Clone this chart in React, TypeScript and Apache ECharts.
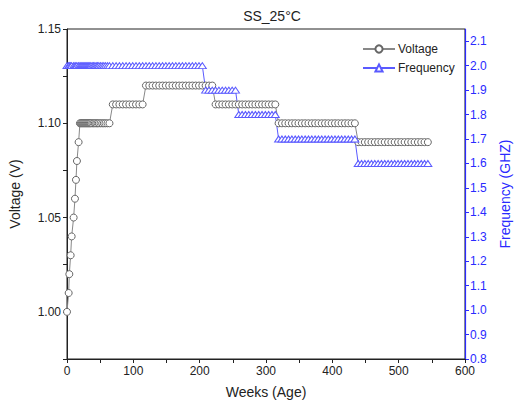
import React, { useEffect, useRef } from "react";
import * as echarts from "echarts";

const weeks = [
  0, 2.5, 3.5, 5.5, 7, 10, 12, 13.5, 15, 17.5,
  19.5, 21, 22.5, 24, 25.5, 27, 28.5, 30, 31.5, 33, 34.5, 36, 38, 40, 42, 44, 46, 48, 50.5, 53, 55.5, 58, 61, 64,
  69, 74, 79, 84, 89, 94, 99, 104, 109, 114,
  119, 124, 129, 134, 139, 144, 149, 154, 159, 164, 169, 174, 179, 184, 189, 194, 199, 204, 209, 214, 219,
  224, 229, 234, 239, 244, 249, 254, 259, 264, 269, 274, 279, 284, 289, 294, 299, 304, 309, 314,
  319, 324, 329, 334, 339, 344, 349, 354, 359, 364, 369, 374, 379, 384, 389, 394, 399, 404, 409, 414, 419, 424, 429, 434,
  439, 444, 449, 454, 459, 464, 469, 474, 479, 484, 489, 494, 499, 504, 509, 514, 519, 524, 529, 534, 539, 544,
];

const voltage = [
  1.0, 1.01, 1.02, 1.03, 1.04, 1.05, 1.06, 1.07, 1.08, 1.09,
  1.1, 1.1, 1.1, 1.1, 1.1, 1.1, 1.1, 1.1, 1.1, 1.1, 1.1, 1.1, 1.1, 1.1, 1.1, 1.1, 1.1, 1.1, 1.1, 1.1, 1.1, 1.1, 1.1, 1.1,
  1.11, 1.11, 1.11, 1.11, 1.11, 1.11, 1.11, 1.11, 1.11, 1.11,
  1.12, 1.12, 1.12, 1.12, 1.12, 1.12, 1.12, 1.12, 1.12, 1.12, 1.12, 1.12, 1.12, 1.12, 1.12, 1.12, 1.12, 1.12, 1.12, 1.12, 1.12,
  1.11, 1.11, 1.11, 1.11, 1.11, 1.11, 1.11, 1.11, 1.11, 1.11, 1.11, 1.11, 1.11, 1.11, 1.11, 1.11, 1.11, 1.11, 1.11,
  1.1, 1.1, 1.1, 1.1, 1.1, 1.1, 1.1, 1.1, 1.1, 1.1, 1.1, 1.1, 1.1, 1.1, 1.1, 1.1, 1.1, 1.1, 1.1, 1.1, 1.1, 1.1, 1.1, 1.1,
  1.09, 1.09, 1.09, 1.09, 1.09, 1.09, 1.09, 1.09, 1.09, 1.09, 1.09, 1.09, 1.09, 1.09, 1.09, 1.09, 1.09, 1.09, 1.09, 1.09, 1.09, 1.09,
];

const frequency = [
  2.0, 2.0, 2.0, 2.0, 2.0, 2.0, 2.0, 2.0, 2.0, 2.0,
  2.0, 2.0, 2.0, 2.0, 2.0, 2.0, 2.0, 2.0, 2.0, 2.0, 2.0, 2.0, 2.0, 2.0, 2.0, 2.0, 2.0, 2.0, 2.0, 2.0, 2.0, 2.0, 2.0, 2.0,
  2.0, 2.0, 2.0, 2.0, 2.0, 2.0, 2.0, 2.0, 2.0, 2.0,
  2.0, 2.0, 2.0, 2.0, 2.0, 2.0, 2.0, 2.0, 2.0, 2.0, 2.0, 2.0, 2.0, 2.0, 2.0, 2.0, 2.0, 2.0, 1.9, 1.9, 1.9,
  1.9, 1.9, 1.9, 1.9, 1.9, 1.9, 1.9, 1.8, 1.8, 1.8, 1.8, 1.8, 1.8, 1.8, 1.8, 1.8, 1.8, 1.8, 1.8,
  1.7, 1.7, 1.7, 1.7, 1.7, 1.7, 1.7, 1.7, 1.7, 1.7, 1.7, 1.7, 1.7, 1.7, 1.7, 1.7, 1.7, 1.7, 1.7, 1.7, 1.7, 1.7, 1.7, 1.7,
  1.6, 1.6, 1.6, 1.6, 1.6, 1.6, 1.6, 1.6, 1.6, 1.6, 1.6, 1.6, 1.6, 1.6, 1.6, 1.6, 1.6, 1.6, 1.6, 1.6, 1.6, 1.6,
];

const FONT = "Arial, 'Liberation Sans', sans-serif";
const BLUE = "#2a2aff";
const TRI = "#5a5aff";

export default function App() {
  const ref = useRef<HTMLDivElement>(null);
  useEffect(() => {
    if (!ref.current) return;
    const chart = echarts.init(ref.current, null, { renderer: "svg" });
    chart.setOption({
      animation: false,
      backgroundColor: "#fff",
      title: {
        text: "SS_25\u00b0C",
        left: 267,
        textAlign: "center",
        top: 4,
        textStyle: { fontFamily: FONT, fontSize: 14, fontWeight: "normal", color: "#222" },
      },
      legend: {
        orient: "vertical",
        left: 357,
        top: 38,
        itemWidth: 32,
        itemHeight: 9,
        itemGap: 7,
        textStyle: { fontFamily: FONT, fontSize: 12, color: "#222", padding: [0, 0, 0, -2] },
        data: ["Voltage", "Frequency"],
      },
      grid: {
        left: 67,
        right: 52,
        top: 29,
        bottom: 46,
        show: true,
        borderColor: "#222",
        borderWidth: 1,
        backgroundColor: "transparent",
      },
      xAxis: {
        type: "value",
        min: 0,
        max: 600,
        interval: 50,
        name: "Weeks (Age)",
        nameLocation: "middle",
        nameGap: 26,
        nameTextStyle: { fontFamily: FONT, fontSize: 14, color: "#222" },
        axisLine: { show: true, lineStyle: { color: "#222", width: 1 } },
        axisTick: { show: true, length: 4, lineStyle: { color: "#222" } },
        axisLabel: {
          fontFamily: FONT,
          fontSize: 12,
          color: "#222",
          margin: 6,
          formatter: (v: number) => (Math.round(v) % 100 === 0 ? String(v) : ""),
        },
        splitLine: { show: false },
      },
      yAxis: [
        {
          type: "value",
          min: 0.975,
          max: 1.15,
          interval: 0.025,
          name: "Voltage (V)",
          nameLocation: "middle",
          nameGap: 45,
          nameTextStyle: { fontFamily: FONT, fontSize: 14, color: "#222" },
          axisLine: { show: true, lineStyle: { color: "#222", width: 1 } },
          axisTick: { show: true, length: 4, lineStyle: { color: "#222" } },
          axisLabel: {
            fontFamily: FONT,
            fontSize: 12,
            color: "#222",
            margin: 6,
            formatter: (v: number) =>
              Math.round(v * 1000) % 50 === 0 ? v.toFixed(2) : "",
          },
          splitLine: { show: false },
        },
        {
          type: "value",
          position: "right",
          min: 0.8,
          max: 2.15,
          interval: 0.1,
          name: "Frequency (GHZ)",
          nameLocation: "middle",
          nameGap: 33,
          nameTextStyle: { fontFamily: FONT, fontSize: 14, color: BLUE },
          axisLine: { show: true, lineStyle: { color: BLUE, width: 1.2 } },
          axisTick: { show: true, length: 4, lineStyle: { color: BLUE } },
          axisLabel: {
            fontFamily: FONT,
            fontSize: 12,
            color: BLUE,
            margin: 5,
            showMaxLabel: false,
            formatter: (v: number) => (v > 2.12 ? "" : v.toFixed(1)),
          },
          splitLine: { show: false },
        },
      ],
      series: [
        {
          name: "Voltage",
          type: "line",
          yAxisIndex: 0,
          data: weeks.map((w, i) => [w, voltage[i]]),
          symbol: "circle",
          symbolSize: 7,
          showAllSymbol: true,
          lineStyle: { color: "#888", width: 1 },
          itemStyle: { color: "#fff", borderColor: "#666", borderWidth: 1 },
        },
        {
          name: "Frequency",
          type: "line",
          yAxisIndex: 1,
          data: weeks.map((w, i) => [w, frequency[i]]),
          symbol: "triangle",
          symbolSize: [8, 6],
          showAllSymbol: true,
          lineStyle: { color: TRI, width: 1 },
          itemStyle: { color: "#fff", borderColor: TRI, borderWidth: 1 },
        },
      ],
    });
    return () => chart.dispose();
  }, []);
  return <div ref={ref} style={{ width: 520, height: 405, position: "absolute", left: 0, top: 0 }} />;
}
